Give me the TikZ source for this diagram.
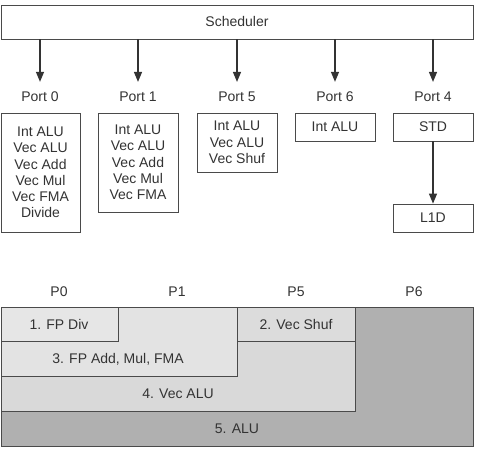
\documentclass[tikz,border=0pt]{standalone}
\usepackage{fontspec}
\setmainfont{Liberation Sans}
\usetikzlibrary{arrows.meta,shadows}
\definecolor{txt}{HTML}{333333}
\definecolor{edge}{HTML}{4A4A4A}
\definecolor{cDiv}{HTML}{E6E6E6}
\definecolor{cAdd}{HTML}{E3E3E3}
\definecolor{cShuf}{HTML}{DCDCDC}
\definecolor{cVec}{HTML}{D9D9D9}
\definecolor{cAlu}{HTML}{B0B0B0}
\tikzset{
  lbl/.style={font=\fontsize{14}{16.3}\selectfont, text=txt, inner sep=0pt, align=center},
  unitbox/.style={draw=edge, line width=0.8pt, fill=white, inner sep=0pt, align=center,
    font=\fontsize{14}{16.3}\selectfont, text=txt,
    drop shadow={shadow xshift=1.2pt, shadow yshift=-1.2pt, fill=black!35, opacity=0.6}},
  arr/.style={draw=txt, line width=1.3pt, -{Triangle[width=8pt,length=10pt]}},
  region/.style={draw=edge, line width=0.8pt,
    drop shadow={shadow xshift=1pt, shadow yshift=-1pt, fill=black!40, opacity=0.5}}
}
\begin{document}
\begin{tikzpicture}[x=1pt,y=-1pt]
\useasboundingbox (0,0) rectangle (503,454);
% Scheduler
\node[unitbox, minimum width=472pt, minimum height=34pt] (sched) at (237,22) {Scheduler};
% Port labels
\node[lbl] (p0) at (40,97) {Port 0};
\node[lbl] (p1) at (138,97) {Port 1};
\node[lbl] (p5) at (237,97) {Port 5};
\node[lbl] (p6) at (335,97) {Port 6};
\node[lbl] (p4) at (433,97) {Port 4};
\foreach \p in {p0,p1,p5,p6,p4}{
  \draw[arr, shorten >=10pt] (sched.south -| \p) -- (\p.north);
}
% Unit boxes
\node[unitbox, minimum width=79pt, minimum height=119pt] (u0) at (40.5,172.5)
  {Int ALU\\Vec ALU\\Vec Add\\Vec Mul\\Vec FMA\\Divide};
\node[unitbox, minimum width=80pt, minimum height=99pt] (u1) at (138,162.5)
  {Int ALU\\Vec ALU\\Vec Add\\Vec Mul\\Vec FMA};
\node[unitbox, minimum width=80pt, minimum height=59pt] (u5) at (237,142.5)
  {Int ALU\\Vec ALU\\Vec Shuf};
\node[unitbox, minimum width=80pt, minimum height=28pt] (u6) at (335,127)
  {Int ALU};
\node[unitbox, minimum width=80pt, minimum height=28pt] (std) at (433,127)
  {STD};
\node[unitbox, minimum width=80pt, minimum height=28pt] (l1d) at (433,218)
  {L1D};
\draw[arr] (std) -- (l1d);
% Bottom port labels
\node[lbl] (q0) at (59,292) {P0};
\node[lbl] (q1) at (177,292) {P1};
\node[lbl] (q5) at (296,292) {P5};
\node[lbl] (q6) at (414,292) {P6};
% Regions
\draw[region, fill=cAlu] (1,307) rectangle (473,446);
\draw[region, fill=cVec] (1,307) rectangle (355,411);
\draw[region, fill=cAdd] (1,307) rectangle (237,376);
\draw[region, fill=cDiv] (1,307) rectangle (118,341);
\draw[region, fill=cShuf] (237,307) rectangle (355,341);
\node[lbl] (r1) at (59,324) {1. FP Div};
\node[lbl] (r2) at (296,324) {2. Vec Shuf};
\node[lbl] (r3) at (118,359) {3. FP Add, Mul, FMA};
\node[lbl] (r4) at (178,394) {4. Vec ALU};
\node[lbl] (r5) at (237,429) {5. ALU};
\end{tikzpicture}
\end{document}
